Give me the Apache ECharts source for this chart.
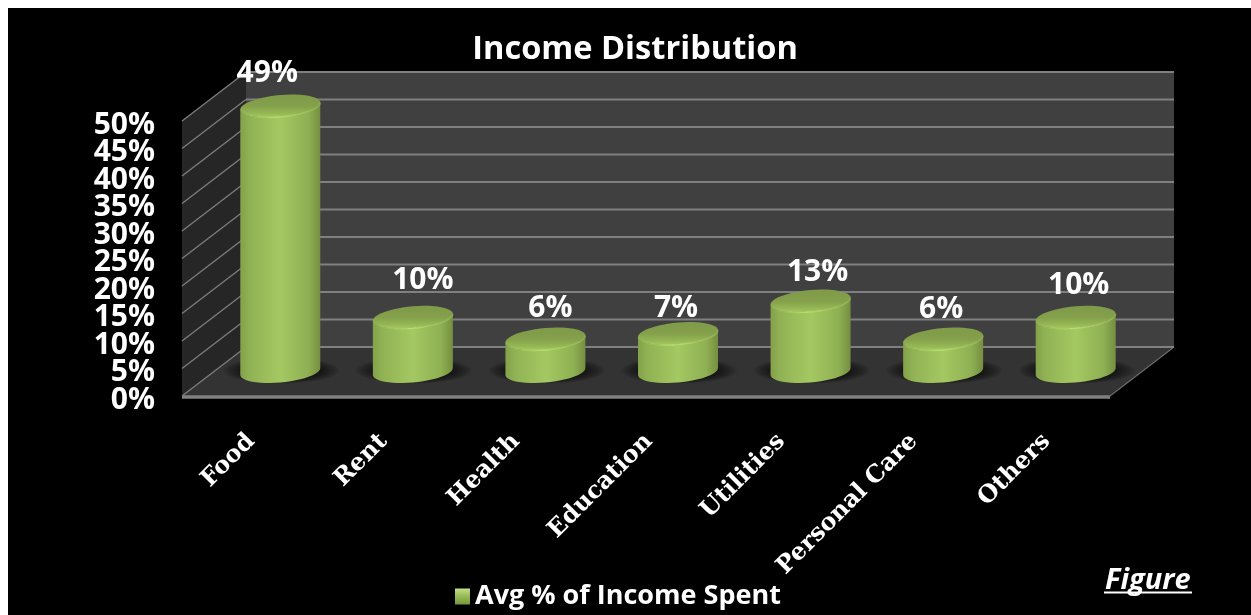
<!DOCTYPE html>
<html>
<head>
<meta charset="utf-8">
<style>
  html, body { margin: 0; width: 100%; height: 100%; background: #fff; overflow: hidden; }
  #frame { position: absolute; left: 8px; top: 8px; right: 0; bottom: 0; background: #000; }
  #chart { position: absolute; left: 0; top: 0; width: 1251px; height: 615px; }
</style>
<script src="https://cdn.jsdelivr.net/npm/echarts@6/dist/echarts.min.js"></script>
</head>
<body>
<div id="frame"></div>
<div id="chart"></div>
<script>
const categories = ['Food', 'Rent', 'Health', 'Education', 'Utilities', 'Personal Care', 'Others'];
const avgPercentSpent = [49, 10, 6, 7, 13, 6, 10];
const yTicks = [0, 5, 10, 15, 20, 25, 30, 35, 40, 45, 50];
const seriesName = 'Avg % of Income Spent';

// Hand placement of the value labels, relative to the top of each cylinder.
const labelNudge = [[-13, -34], [10, -38], [5, -32], [-2, -26], [7, -30], [-2, -31], [3, -33]];

const DEPTH_X = 64;
const DEPTH_Y = -49;
const MID_DEPTH_SCALE = 0.985;
const BAR_RX = 40;
const BAR_RY = 11;
const BAR_TILT = 3.4;
const UI_FONT = '"Open Sans", sans-serif';

// Points along a slightly sheared ellipse, from angle a0 to a1.
function arc(cx, cy, a0, a1, n) {
  const pts = [];
  for (let i = 0; i <= n; i++) {
    const t = a0 + (a1 - a0) * i / n;
    pts.push([
      cx + BAR_RX * Math.cos(t),
      cy + BAR_RY * Math.sin(t) - BAR_TILT * Math.cos(t)
    ]);
  }
  return pts;
}

const hGrad = stops => ({
  type: 'linear', x: 0, y: 0, x2: 1, y2: 0,
  colorStops: stops.map(s => ({ offset: s[0], color: s[1] }))
});
const vGrad = stops => ({
  type: 'linear', x: 0, y: 0, x2: 0, y2: 1,
  colorStops: stops.map(s => ({ offset: s[0], color: s[1] }))
});

// Back wall, side wall and floor of the box.
function renderPanels(params, api) {
  const c = params.coordSys;
  const x0 = c.x, x1 = c.x + c.width, yTop = c.y, yBase = c.y + c.height;
  return {
    type: 'group',
    children: [
      { type: 'polygon', shape: { points: [[x0 + DEPTH_X, yTop + DEPTH_Y], [x1 + DEPTH_X, yTop + DEPTH_Y], [x1 + DEPTH_X, yBase + DEPTH_Y], [x0 + DEPTH_X, yBase + DEPTH_Y]] }, style: { fill: '#404040' } },
      { type: 'polygon', shape: { points: [[x0, yTop], [x0 + DEPTH_X, yTop + DEPTH_Y], [x0 + DEPTH_X, yBase + DEPTH_Y], [x0, yBase]] }, style: { fill: '#262626' } },
      { type: 'polygon', shape: { points: [[x0, yBase], [x0 + DEPTH_X, yBase + DEPTH_Y], [x1 + DEPTH_X, yBase + DEPTH_Y], [x1, yBase]] }, style: { fill: '#333333' } },
      { type: 'line', shape: { x1: x0, y1: yBase + 1, x2: x1, y2: yBase + 1 }, style: { stroke: '#808080', lineWidth: 3.5 } },
      { type: 'line', shape: { x1: x1, y1: yBase, x2: x1 + DEPTH_X, y2: yBase + DEPTH_Y }, style: { stroke: '#6a6a6a', lineWidth: 1.2 } }
    ]
  };
}

// One gridline per tick: along the side wall, then across the back wall.
function renderGridline(params, api) {
  const c = params.coordSys;
  const y = api.coord([0, api.value(1)])[1];
  return {
    type: 'group',
    children: [
      { type: 'line', shape: { x1: c.x, y1: y, x2: c.x + DEPTH_X, y2: y + DEPTH_Y }, style: { stroke: '#7c7c7c', lineWidth: 1.4 } },
      { type: 'line', shape: { x1: c.x + DEPTH_X, y1: y + DEPTH_Y, x2: c.x + c.width + DEPTH_X, y2: y + DEPTH_Y }, style: { stroke: '#808080', lineWidth: 1.8 } }
    ]
  };
}

// Soft pool of shade under a cylinder, built from stacked translucent ellipses.
function floorShade(cx, cy) {
  const layers = [];
  const steps = 9;
  for (let s = 0; s < steps; s++) {
    const f = s / (steps - 1);
    const points = [];
    for (let k = 0; k <= 48; k++) {
      const t = Math.PI * 2 * k / 48;
      points.push([cx + (58 - 18 * f) * Math.cos(t), cy + (13 - 3.5 * f) * Math.sin(t)]);
    }
    layers.push({ type: 'polygon', shape: { points: points }, style: { fill: 'rgba(0,0,0,0.07)' } });
  }
  return layers;
}

// A shaded cylinder standing halfway back on the floor.
function renderCylinder(params, api) {
  const i = params.dataIndex;
  const top = api.coord([api.value(0), api.value(1)]);
  const base = api.coord([api.value(0), 0]);
  const cx = top[0] + DEPTH_X / 2;
  const baseY = base[1] + DEPTH_Y / 2;
  const topY = baseY + (top[1] - base[1]) * MID_DEPTH_SCALE;

  const lowerTop = arc(cx, topY, 0, Math.PI, 24);
  const lowerBase = arc(cx, baseY, 0, Math.PI, 24);
  const body = lowerBase.concat(lowerTop.slice().reverse());
  const cap = arc(cx, topY, 0, Math.PI * 2, 48);
  const nudge = labelNudge[i];

  return {
    type: 'group',
    children: floorShade(cx + 1, baseY - 1).concat([
      { type: 'polygon', shape: { points: body }, style: { fill: hGrad([[0, '#83a14a'], [0.12, '#91b254'], [0.5, '#a4c862'], [0.85, '#8fb053'], [1, '#748f40']]) } },
      { type: 'polygon', shape: { points: cap }, style: { fill: vGrad([[0, '#7f9a49'], [0.5, '#84a04b'], [0.82, '#96b755'], [1, '#a6cb60']]) } },
      { type: 'polyline', shape: { points: lowerTop }, style: { fill: 'none', lineWidth: 1.4, stroke: hGrad([[0, 'rgba(160,200,90,0.1)'], [0.45, '#b9e070'], [1, 'rgba(160,200,90,0.5)']]) } },
      {
        type: 'text',
        style: {
          x: cx + nudge[0],
          y: topY + nudge[1] + 1,
          text: api.value(1) + '%',
          fill: '#fff',
          font: 'bold 30px ' + UI_FONT,
          align: 'center',
          verticalAlign: 'middle'
        }
      }
    ])
  };
}

// The tick labels are tall enough to touch their neighbours, so alternate ticks
// are labelled by two coincident value axes.
const valueAxis = labelledTicks => ({
  type: 'value',
  min: 0,
  max: 50,
  interval: 5,
  position: 'left',
  splitLine: { show: false },
  axisLine: { show: false },
  axisTick: { show: false },
  axisLabel: {
    margin: 27,
    customValues: labelledTicks,
    formatter: '{p|{value}%}',
    rich: {
      p: {
        color: '#fff',
        fontFamily: UI_FONT,
        fontWeight: 'bold',
        fontSize: 30,
        lineHeight: 16,
        padding: [8, 0, 0, 0]
      }
    }
  }
});

const chart = echarts.init(document.getElementById('chart'), null, { renderer: 'canvas' });
chart.setOption({
  animation: false,
  backgroundColor: 'transparent',
  title: {
    text: 'Income Distribution',
    left: 630,
    textAlign: 'center',
    top: 28,
    textStyle: { color: '#fff', fontFamily: UI_FONT, fontWeight: 'bold', fontSize: 32.6 }
  },
  legend: {
    left: 455,
    top: 583,
    padding: 0,
    itemWidth: 15,
    itemHeight: 16,
    itemGap: 12,
    data: [{
      name: seriesName,
      icon: 'rect',
      itemStyle: { color: vGrad([[0, '#c3df8b'], [0.4, '#9dc05c'], [1, '#78963f']]) }
    }],
    textStyle: { color: '#fff', fontFamily: UI_FONT, fontWeight: 'bold', fontSize: 27, padding: [0, 0, 0, 0] }
  },
  grid: { left: 182, right: 141, top: 121, bottom: 219, containLabel: false },
  xAxis: {
    type: 'category',
    data: categories,
    axisLine: { show: false },
    axisTick: { show: false },
    axisLabel: {
      interval: 0,
      rotate: 45,
      margin: 39,
      formatter: '{c|{value}}',
      rich: {
        c: {
          color: '#fff',
          fontFamily: '"DejaVu Serif", serif',
          fontWeight: 'bold',
          fontSize: 24,
          padding: [8, 0, 0, 0]
        }
      }
    }
  },
  yAxis: [
    valueAxis(yTicks.filter(t => t % 10 === 0)),
    valueAxis(yTicks.filter(t => t % 10 !== 0))
  ],
  series: [
    { type: 'custom', name: 'panels', silent: true, z: 1, renderItem: renderPanels, data: [[0, 0]], encode: { x: 0, y: 1 } },
    { type: 'custom', name: 'gridlines', silent: true, z: 2, renderItem: renderGridline, data: yTicks.map(t => [0, t]), encode: { x: 0, y: 1 } },
    {
      type: 'custom',
      name: seriesName,
      z: 3,
      renderItem: renderCylinder,
      itemStyle: { color: '#9dc05c' },
      data: avgPercentSpent.map((v, i) => [i, v]),
      encode: { x: 0, y: 1 }
    }
  ],
  graphic: [
    {
      type: 'text',
      left: 1105,
      top: 566,
      style: { text: 'Figure', fill: '#fff', font: 'italic bold 29px ' + UI_FONT }
    },
    {
      type: 'line',
      shape: { x1: 1104, y1: 592.5, x2: 1192, y2: 592.5 },
      style: { stroke: '#fff', lineWidth: 2 }
    }
  ]
});
</script>
</body>
</html>
